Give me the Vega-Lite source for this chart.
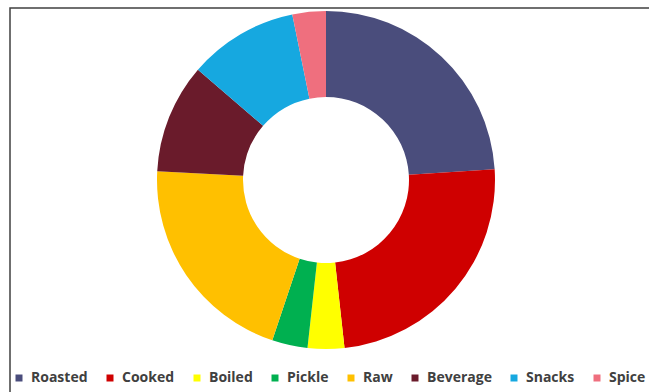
{
  "$schema": "https://vega.github.io/schema/vega-lite/v6.json",
  "width": 700,
  "height": 420,
  "autosize": {"type": "none"},
  "padding": {"left": 10, "top": 8, "right": 0, "bottom": 0},
  "background": "white",
  "config": {"view": {"stroke": "#404040", "strokeWidth": 1.5}},
  "data": {
    "values": [
      {"type": "Roasted", "share": 24.0, "order": 1},
      {"type": "Cooked", "share": 24.3, "order": 2},
      {"type": "Boiled", "share": 3.5, "order": 3},
      {"type": "Pickle", "share": 3.4, "order": 4},
      {"type": "Raw", "share": 20.7, "order": 5},
      {"type": "Beverage", "share": 10.5, "order": 6},
      {"type": "Snacks", "share": 10.5, "order": 7},
      {"type": "Spice", "share": 3.2, "order": 8}
    ]
  },
  "mark": {"type": "arc", "outerRadius": 169, "innerRadius": 83},
  "encoding": {
    "theta": {"field": "share", "type": "quantitative", "stack": true},
    "order": {"field": "order", "type": "quantitative"},
    "x": {"value": 316},
    "y": {"value": 172},
    "color": {
      "field": "type",
      "type": "nominal",
      "sort": ["Roasted", "Cooked", "Boiled", "Pickle", "Raw", "Beverage", "Snacks", "Spice"],
      "scale": {
        "domain": ["Roasted", "Cooked", "Boiled", "Pickle", "Raw", "Beverage", "Snacks", "Spice"],
        "range": ["#4a4d7c", "#cf0000", "#ffff00", "#00b050", "#ffc000", "#6a1b2b", "#16a8e0", "#ef6f7e"]
      },
      "legend": {
        "orient": "none",
        "legendX": 2,
        "legendY": 363,
        "direction": "horizontal",
        "columns": 8,
        "title": null,
        "symbolType": "square",
        "symbolSize": 49,
        "symbolStrokeWidth": 0,
        "labelFont": "Open Sans",
        "labelFontWeight": "bold",
        "labelFontSize": 14,
        "labelColor": "#404040",
        "labelOffset": 5,
        "columnPadding": 15,
        "padding": 0
      }
    }
  }
}
